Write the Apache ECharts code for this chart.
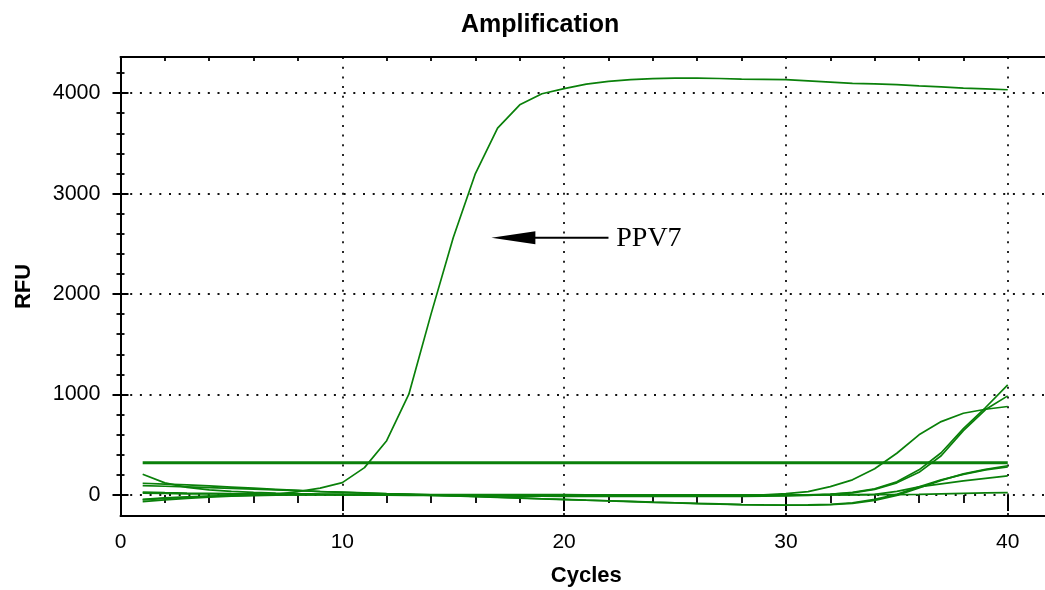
<!DOCTYPE html>
<html><head><meta charset="utf-8">
<script src="https://cdn.jsdelivr.net/npm/echarts@6/dist/echarts.min.js"></script>
<style>html,body{margin:0;padding:0;background:#fff}#c{width:1045px;height:590px}</style>
</head><body><div id="c"></div>
<script>
// ---------- data ----------
const cycles = [1,2,3,4,5,6,7,8,9,10,11,12,13,14,15,16,17,18,19,20,21,22,23,24,25,26,27,28,29,30,31,32,33,34,35,36,37,38,39,40];

const ppv7 = [-50,-35,-25,-15,-8,-2,5,33,67,122,272,540,1003,1800,2560,3200,3652,3884,3994,4045,4090,4118,4135,4145,4150,4150,4146,4140,4138,4134,4122,4110,4098,4092,4085,4073,4062,4050,4042,4034];
const sampleA = [206,120,75,50,35,25,18,12,8,5,3,2,0,-2,-4,-5,-6,-8,-8,-10,-10,-10,-11,-11,-12,-12,-11,-8,0,12,33,83,150,260,415,598,730,813,853,880];
const sampleB = [27,22,18,15,12,10,8,6,4,2,0,-2,-4,-6,-8,-10,-11,-12,-13,-14,-15,-15,-16,-16,-16,-16,-15,-14,-12,-10,-5,5,25,60,130,250,420,660,870,1096];
const sampleC = [17,14,11,9,7,5,4,3,2,1,0,-1,-2,-3,-4,-5,-6,-6,-7,-7,-8,-8,-8,-8,-8,-8,-8,-8,-6,-4,0,8,20,55,120,225,390,640,850,986];
const sampleD = [116,108,99,89,78,67,56,45,33,27,20,13,7,0,-8,-15,-23,-30,-38,-45,-52,-58,-65,-72,-78,-85,-90,-96,-100,-103,-103,-98,-85,-55,-5,70,145,210,255,290];
const sampleE = [92,86,80,73,66,58,50,42,34,26,18,10,3,-4,-11,-18,-25,-32,-39,-46,-53,-60,-67,-74,-80,-86,-92,-97,-100,-102,-100,-94,-78,-45,5,80,150,205,250,280];
const sampleF = [-43,-30,-20,-12,-6,-2,0,2,3,3,3,2,2,1,1,0,0,0,-1,-1,-2,-2,-2,-3,-3,-3,-3,-3,-2,-2,-1,0,2,5,35,80,110,140,165,190];
const sampleG = [-67,-50,-35,-22,-13,-7,-3,0,2,3,4,4,4,4,3,3,3,2,2,2,1,1,1,0,0,0,0,0,0,0,0,0,1,2,3,5,10,15,20,23];
const threshold = 320;

const xLabels = [0,10,20,30,40];
const xMinorTicks = [2,4,6,8,12,14,16,18,22,24,26,28,32,34,36,38,42];
const yLabels = [0,1000,2000,3000,4000];
const yMinorTicks = [200,400,600,800,1200,1400,1600,1800,2200,2400,2600,2800,3200,3400,3600,3800,4200];

const annotationText = 'PPV7';
const arrowTail = [22, 2560];
const arrowTip = [16.72, 2560];
const textAnchor = [22.35, 2560];

// ---------- chart ----------
const GREEN = '#0a800a';
const FONT = "'Liberation Sans', Arial, sans-serif";
const X_MIN = 0, X_MAX = 42, Y_MIN = -210, Y_MAX = 4360;
const dotted = {color:'#111', width:1.8, type:[2,7.7]};
const plain = v => String(v);

function toPairs(arr){ return cycles.map((c,i)=>[c, arr[i]]); }

const sampleSets = [sampleA, sampleB, sampleC, sampleD, sampleE, sampleF, sampleG, ppv7];

const chart = echarts.init(document.getElementById('c'), null, {renderer:'canvas'});

const xBase = {type:'value', min:X_MIN, max:X_MAX, splitLine:{show:false}, axisLabel:{show:false}, axisLine:{show:false}};
const yBase = {type:'value', min:Y_MIN, max:Y_MAX, splitLine:{show:false}, axisLabel:{show:false}, axisLine:{show:false}};

const option = {
  animation:false,
  backgroundColor:'#fff',
  title:{text:'Amplification', left:456, top:8,
    textStyle:{fontFamily:FONT, fontSize:25, fontWeight:'bold', color:'#000'}},
  grid:{left:120.5, top:57, width:931.6, height:459, containLabel:false, outerBoundsMode:'none'},
  xAxis:[
    Object.assign({}, xBase, {position:'bottom',
      axisLine:{show:true, onZero:false, lineStyle:{color:'#000', width:2}},
      axisTick:{show:false, customValues:[10,20,30,40]},
      axisLabel:{show:true, customValues:xLabels, formatter:plain, fontSize:21, color:'#000', fontFamily:FONT, margin:16},
      splitLine:{show:true, lineStyle:dotted},
      name:'Cycles', nameLocation:'middle', nameGap:49,
      nameTextStyle:{fontFamily:FONT, fontSize:22, fontWeight:'bold', color:'#000'}}),
    Object.assign({}, xBase, {position:'bottom', offset:-8,
      axisTick:{show:true, length:16, customValues:xLabels, lineStyle:{color:'#000', width:2}}}),
    Object.assign({}, xBase, {position:'bottom', offset:-4,
      axisTick:{show:true, length:8, customValues:xMinorTicks, lineStyle:{color:'#000', width:1.8}}}),
    Object.assign({}, xBase, {position:'top',
      axisLine:{show:true, onZero:false, lineStyle:{color:'#000', width:2}},
      axisTick:{show:true, inside:true, length:4, customValues:xMinorTicks, lineStyle:{color:'#000', width:1.8}}}),
    Object.assign({}, xBase, {position:'top',
      axisTick:{show:true, inside:true, length:7, customValues:xLabels, lineStyle:{color:'#000', width:2}}})
  ],
  yAxis:[
    Object.assign({}, yBase, {position:'left',
      axisLine:{show:true, onZero:false, lineStyle:{color:'#000', width:2}},
      axisTick:{show:false, customValues:yLabels},
      axisLabel:{show:true, customValues:yLabels, formatter:plain, fontSize:21.5, color:'#000', fontFamily:FONT, margin:20},
      splitLine:{show:true, lineStyle:dotted},
      name:'RFU', nameLocation:'middle', nameGap:86,
      nameTextStyle:{fontFamily:FONT, fontSize:22, fontWeight:'bold', color:'#000'}}),
    Object.assign({}, yBase, {position:'left', offset:-8,
      axisTick:{show:true, length:16, customValues:yLabels, lineStyle:{color:'#000', width:2}}}),
    Object.assign({}, yBase, {position:'left', offset:-4,
      axisTick:{show:true, length:8, customValues:yMinorTicks, lineStyle:{color:'#000', width:1.8}}})
  ],
  series: sampleSets.map(arr => ({
    type:'line', xAxisIndex:0, yAxisIndex:0, data:toPairs(arr), showSymbol:false, symbol:'none',
    lineStyle:{color:GREEN, width:1.7}, silent:true
  })).concat([{
    type:'line', xAxisIndex:0, yAxisIndex:0, data:[[cycles[0], threshold],[cycles[cycles.length-1], threshold]],
    showSymbol:false, symbol:'none', lineStyle:{color:GREEN, width:3.2}, silent:true, z:3
  }])
};
chart.setOption(option);

// annotation arrow + text, positioned through the chart's own scales
const pTip = chart.convertToPixel({gridIndex:0}, arrowTip);
const pTail = chart.convertToPixel({gridIndex:0}, arrowTail);
const pText = chart.convertToPixel({gridIndex:0}, textAnchor);
const headLen = 44, headHalf = 6.5;
chart.setOption({
  graphic:[
    {type:'line', shape:{x1:pTip[0]+headLen-2, y1:pTip[1], x2:pTail[0], y2:pTail[1]}, style:{stroke:'#000', lineWidth:2}, z:10},
    {type:'polygon', shape:{points:[[pTip[0], pTip[1]], [pTip[0]+headLen, pTip[1]-headHalf], [pTip[0]+headLen, pTip[1]+headHalf]]}, style:{fill:'#000'}, z:10},
    {type:'text', x:pText[0], y:pText[1]+1, style:{text:annotationText, fill:'#000', font:"28px 'Liberation Serif', 'Times New Roman', serif", textAlign:'left', textVerticalAlign:'middle'}, z:10}
  ]
});
</script>
</body></html>
